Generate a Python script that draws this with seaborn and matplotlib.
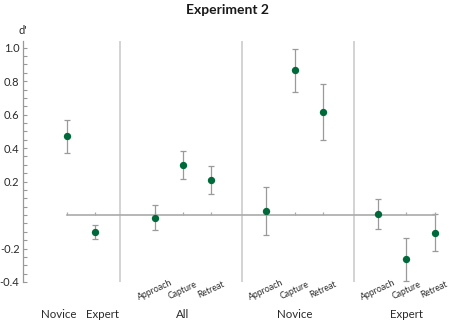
import numpy as np
import pandas as pd
import seaborn as sns
import matplotlib
matplotlib.use('Agg')
import matplotlib.pyplot as plt
from matplotlib.transforms import blended_transform_factory

# Overall d' by expertise
expertise = ["Novice", "Expert"]
overall_d = [0.47, -0.10]
overall_err = [0.10, 0.042]

# d' by phase within each group
groups = ["All", "Novice", "Expert"]
phases = ["Approach", "Capture", "Retreat"]
all_d = [-0.015, 0.30, 0.21]
all_err = [0.074, 0.083, 0.084]
novice_d = [0.023, 0.865, 0.614]
novice_err = [0.142, 0.127, 0.167]
expert_d = [0.005, -0.265, -0.105]
expert_err = [0.088, 0.128, 0.11]

ytick_vals = [-0.4, -0.2, 0.0, 0.2, 0.4, 0.6, 0.8, 1.0]
ytick_labels = ["-0.4", "-0.2", "", "0.2", "0.4", "0.6", "0.8", "1.0"]

# layout
overall_x = [0, 1]
group_start = [3.1, 7.05, 11.0]
separators = [1.87, 6.2, 10.15]
dot_color = "#00693a"
err_color = "#9a9a9a"
text_color = "#2a2a2a"

rows = []
for name, x, d, e in zip(expertise, overall_x, overall_d, overall_err):
    rows.append(dict(group="Overall", label=name, x=x, d=d, err=e))
for g, start, ds, es in zip(groups, group_start, [all_d, novice_d, expert_d],
                            [all_err, novice_err, expert_err]):
    for i, (p, d, e) in enumerate(zip(phases, ds, es)):
        rows.append(dict(group=g, label=p, x=start + i, d=d, err=e))
df = pd.DataFrame(rows)

sns.set_theme(style="white")
plt.rcParams['font.family'] = ['Lato', 'DejaVu Sans']

fig = plt.figure(figsize=(4.54, 3.30), dpi=100)
ax = fig.add_axes([23 / 454, 1 - 282 / 330, 420 / 454, 241 / 330])

# separators between panels
for s in separators:
    ax.axvline(s, color="#cccccc", lw=1.2, zorder=0)

ax.errorbar(df["x"], df["d"], yerr=df["err"], fmt="none", ecolor=err_color,
            elinewidth=0.9, capsize=2, capthick=0.9, zorder=2)
sns.scatterplot(data=df, x="x", y="d", color=dot_color, s=28, edgecolor=dot_color,
                linewidth=0, ax=ax, zorder=3)

ax.set_xlim(-1.55, 13.3)
ax.set_ylim(-0.4, 1.04)

# y axis
ax.set_yticks(ytick_vals)
ax.set_yticklabels(ytick_labels)
ax.set_yticks(np.arange(-0.4, 1.001, 0.05), minor=True)
ax.tick_params(axis="y", which="both", direction="in", length=3, width=0.8,
               color="#999999", left=True, labelsize=8, labelcolor=text_color, pad=2.5)

# zero line as bottom spine
ax.spines["bottom"].set_position(("data", 0))
ax.spines["bottom"].set_bounds(0, df["x"].max())
ax.spines["bottom"].set_color("#aaaaaa")
ax.spines["bottom"].set_linewidth(1.2)
ax.set_xticks(df["x"])
ax.set_xticklabels([])
ax.tick_params(axis="x", direction="in", length=2.5, width=0.9, color="#aaaaaa", bottom=True)
ax.spines["left"].set_color("#999999")
ax.spines["left"].set_linewidth(0.9)
for side in ["top", "right"]:
    ax.spines[side].set_visible(False)
ax.set_xlabel("")
ax.set_ylabel("")

trans = blended_transform_factory(ax.transData, fig.transFigure)
for g, start in zip(groups, group_start):
    for i, p in enumerate(phases):
        ax.text(start + i, 1 - 290 / 330, p, transform=trans, rotation=25,
                ha="center", va="center", fontsize=6.3, color=text_color)
    ax.text(start + 1, 1 - 315 / 330, g, transform=trans, ha="center", va="center",
            fontsize=8.3, color=text_color)
for name, x in zip(expertise, [-0.3, 1.25]):
    ax.text(x, 1 - 315 / 330, name, transform=trans, ha="center", va="center",
            fontsize=8.3, color=text_color)

fig.text(23 / 454, 1 - 30 / 330, "d'", ha="center", va="center", fontsize=8, color=text_color)
fig.suptitle("Experiment 2", x=0.5, y=1 - 10 / 330, va="center", fontsize=10,
             fontweight="bold", color="#1a1a1a")

plt.savefig("out.png", dpi=100)
plt.close()
